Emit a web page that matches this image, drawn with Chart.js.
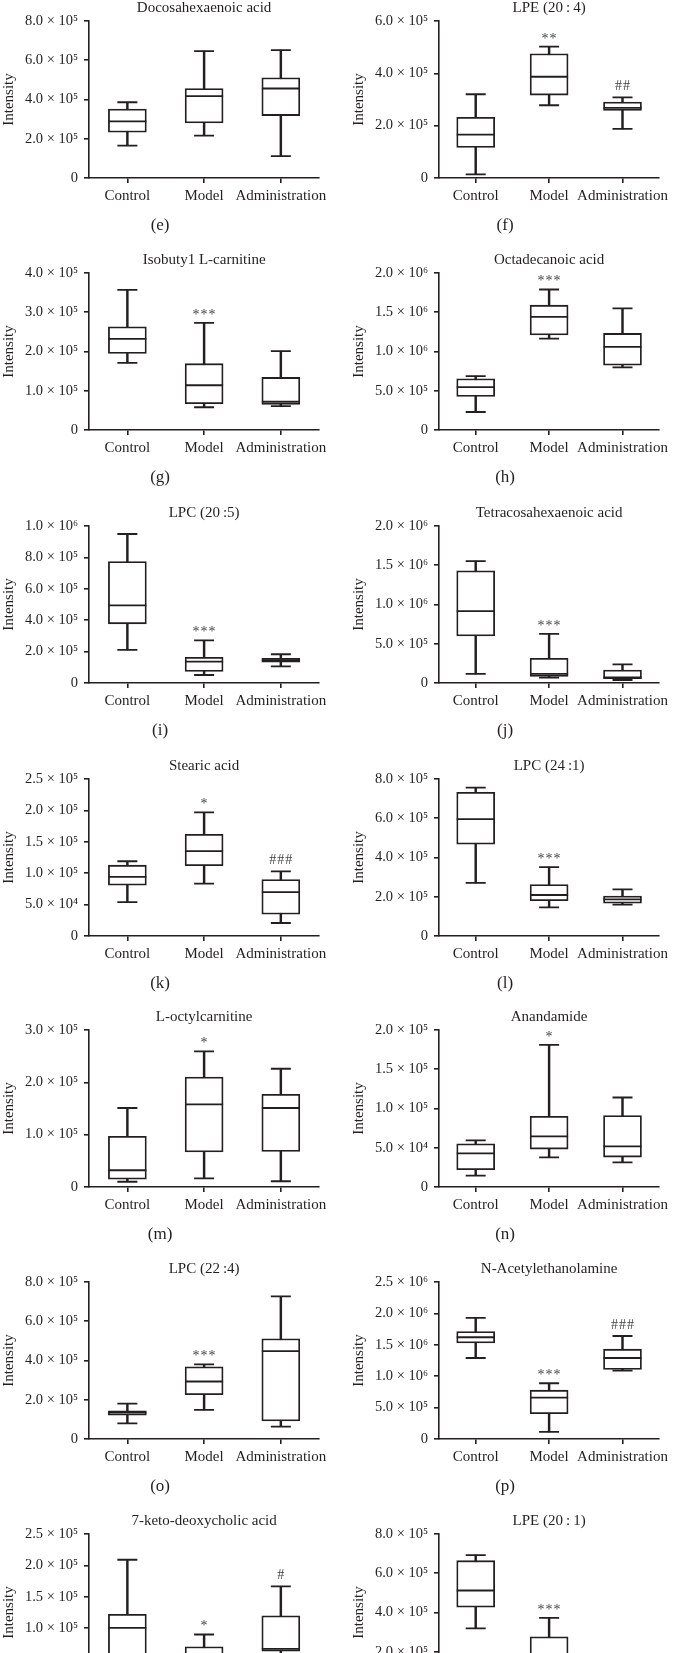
<!DOCTYPE html>
<html>
<head>
<meta charset="utf-8">
<script src="https://cdn.jsdelivr.net/npm/chart.js@4.4.1/dist/chart.umd.min.js"></script>
<style>
  html, body { margin: 0; padding: 0; background: #fff; }
  body { width: 680px; height: 1653px; overflow: hidden; position: relative; }
  .panel { position: absolute; width: 340px; height: 252px; }
</style>
</head>
<body>
<script>
// Box plots e..r: per panel, one triple (Control, Model, Administration) per stat.
const groups = ['Control', 'Model', 'Administration'];
const titles = ['Docosahexaenoic acid', 'LPE (20\u2009:\u20094)', 'Isobuty1 L-carnitine', 'Octadecanoic acid',
  'LPC (20\u2009:5)', 'Tetracosahexaenoic acid', 'Stearic acid', 'LPC (24\u2009:1)',
  'L-octylcarnitine', 'Anandamide', 'LPC (22\u2009:4)', 'N-Acetylethanolamine',
  '7-keto-deoxycholic acid', 'LPE (20\u2009:\u20091)'];
const letters = ['(e)', '(f)', '(g)', '(h)', '(i)', '(j)', '(k)', '(l)', '(m)', '(n)', '(o)', '(p)', '(q)', '(r)'];
const yMax = [8e5, 6e5, 4e5, 2e6, 1e6, 2e6, 2.5e5, 8e5, 3e5, 2e5, 8e5, 2.5e6, 2.5e5, 8e5];
const yStep = [2e5, 2e5, 1e5, 5e5, 2e5, 5e5, 5e4, 2e5, 1e5, 5e4, 2e5, 5e5, 5e4, 2e5];

const whiskerLow = [
  [1.65e5, 2.16e5, 1.11e5], [0.14e5, 2.78e5, 1.88e5], [1.71e5, 0.58e5, 0.61e5], [0.229e6, 1.165e6, 0.797e6],
  [2.11e5, 0.51e5, 1.06e5], [0.115e6, 0.068e6, 0.038e6], [0.54e5, 0.835e5, 0.207e5], [2.71e5, 1.46e5, 1.60e5],
  [0.10e5, 0.165e5, 0.11e5], [0.144e5, 0.377e5, 0.314e5], [0.80e5, 1.48e5, 0.63e5], [1.29e6, 0.112e6, 1.09e6],
  [0.12e5, 0.15e5, 0.40e5], [3.19e5, 0.8e5, 0.6e5]];
const boxLow = [
  [2.33e5, 2.81e5, 3.18e5], [1.17e5, 3.17e5, 2.58e5], [1.95e5, 0.67e5, 0.65e5], [0.428e6, 1.21e6, 0.826e6],
  [3.77e5, 0.74e5, 1.32e5], [0.60e6, 0.085e6, 0.055e6], [0.81e5, 1.12e5, 0.346e5], [4.68e5, 1.80e5, 1.67e5],
  [0.15e5, 0.67e5, 0.68e5], [0.22e5, 0.483e5, 0.381e5], [1.21e5, 2.26e5, 0.92e5], [1.53e6, 0.404e6, 1.106e6],
  [0.42e5, 0.30e5, 0.635e5], [4.27e5, 1.2e5, 0.85e5]];
const medians = [
  [2.89e5, 4.17e5, 4.56e5], [1.66e5, 3.87e5, 2.68e5], [2.32e5, 1.14e5, 0.72e5], [0.547e6, 1.44e6, 1.06e6],
  [4.94e5, 1.36e5, 1.45e5], [0.915e6, 0.115e6, 0.072e6], [0.94e5, 1.35e5, 0.70e5], [5.96e5, 2.09e5, 1.87e5],
  [0.32e5, 1.58e5, 1.51e5], [0.428e5, 0.644e5, 0.517e5], [1.34e5, 2.93e5, 4.48e5], [1.62e6, 0.66e6, 1.29e6],
  [1.006e5, 0.45e5, 0.67e5], [5.12e5, 1.6e5, 1.05e5]];
const boxHigh = [
  [3.51e5, 4.56e5, 5.11e5], [2.32e5, 4.75e5, 2.90e5], [2.63e5, 1.69e5, 1.34e5], [0.653e6, 1.59e6, 1.23e6],
  [7.74e5, 1.64e5, 1.57e5], [1.43e6, 0.315e6, 0.166e6], [1.128e5, 1.62e5, 0.90e5], [7.32e5, 2.62e5, 2.04e5],
  [0.97e5, 2.10e5, 1.77e5], [0.551e5, 0.90e5, 0.91e5], [1.43e5, 3.68e5, 5.11e5], [1.71e6, 0.777e6, 1.43e6],
  [1.22e5, 0.705e5, 1.196e5], [6.64e5, 2.76e5, 1.3e5]];
const whiskerHigh = [
  [3.86e5, 6.47e5, 6.52e5], [3.20e5, 5.02e5, 3.08e5], [3.57e5, 2.73e5, 2.01e5], [0.686e6, 1.79e6, 1.55e6],
  [9.49e5, 2.72e5, 1.83e5], [1.553e6, 0.626e6, 0.238e6], [1.19e5, 1.97e5, 1.03e5], [7.56e5, 3.51e5, 2.38e5],
  [1.51e5, 2.59e5, 2.26e5], [0.593e5, 1.81e5, 1.14e5], [1.80e5, 3.80e5, 7.27e5], [1.93e6, 0.888e6, 1.64e6],
  [2.09e5, 0.90e5, 1.665e5], [6.92e5, 3.73e5, 1.7e5]];
const marks = [
  ['', '', ''], ['', '**', '##'], ['', '***', ''], ['', '***', ''],
  ['', '***', ''], ['', '***', ''], ['', '*', '###'], ['', '***', ''],
  ['', '*', ''], ['', '*', ''], ['', '***', ''], ['', '***', '###'],
  ['', '*', '#'], ['', '***', '']];

const rowTops = [0, 252, 505, 758, 1009, 1261, 1513];
const ink = '#231f20';
const markInk = '#444';
const serif = '"Liberation Serif", "DejaVu Serif", serif';

const SUP = { '4': '\u2074', '5': '\u2075', '6': '\u2076' };
function sci(v) {
  if (Math.abs(v) < 1e-6) return '0';
  const e = Math.floor(Math.log10(v) + 1e-9);
  const m = (v / Math.pow(10, e)).toFixed(1);
  return m + ' \u00d7 10' + String(e).split('').map((c) => SUP[c] || c).join('');
}

// Title above the plot, significance marks above the top whisker, panel letter below.
const panelText = {
  id: 'panelText',
  afterDraw(chart, args, opts) {
    const { ctx, chartArea } = chart;
    const xs = chart.scales.x, ys = chart.scales.y;
    const cx = (chartArea.left + chartArea.right) / 2;
    ctx.save();
    ctx.fillStyle = ink;
    ctx.textAlign = 'center';
    ctx.textBaseline = 'middle';
    ctx.font = `15px ${serif}`;
    ctx.fillText(opts.title, cx, chartArea.top - 13);
    ctx.font = `17px ${serif}`;
    ctx.fillText(opts.letter, cx - 44, chartArea.bottom + 48);
    ctx.fillStyle = markInk;
    ctx.font = `14px ${serif}`;
    ctx.textBaseline = 'alphabetic';
    ctx.letterSpacing = '1px';
    opts.marks.forEach((m, j) => {
      if (!m) return;
      const lift = m.includes('#') ? 7 : 4;
      ctx.fillText(m, xs.getPixelForValue(j) + 0.5, ys.getPixelForValue(opts.tops[j]) - lift);
    });
    ctx.restore();
  },
};

function renderPanel(i) {
  const col = i % 2, row = Math.floor(i / 2);
  const box = document.createElement('div');
  box.className = 'panel';
  box.style.left = (col * 340) + 'px';
  box.style.top = rowTops[row] + 'px';
  const canvas = document.createElement('canvas');
  box.appendChild(canvas);
  document.body.appendChild(box);

  const lineW = 1.8;
  const pointSet = (data, radius) => ({
    type: 'line', data, showLine: false, pointStyle: 'line', pointRadius: radius,
    pointBorderColor: ink, pointBorderWidth: lineW, pointBackgroundColor: ink, order: 1,
  });

  new Chart(canvas, {
    type: 'bar',
    data: {
      labels: groups,
      datasets: [
        { data: groups.map((g, j) => [whiskerLow[i][j], whiskerHigh[i][j]]), barThickness: lineW,
          backgroundColor: ink, grouped: false, order: 3 },
        { data: groups.map((g, j) => [boxLow[i][j], boxHigh[i][j]]), barThickness: 38,
          backgroundColor: '#fff', borderColor: ink, borderWidth: lineW, borderSkipped: false,
          grouped: false, order: 2 },
        pointSet(medians[i], 19),
        pointSet(whiskerLow[i], 10),
        pointSet(whiskerHigh[i], 10),
      ],
    },
    options: {
      responsive: true, maintainAspectRatio: false, animation: false, events: [],
      layout: { padding: { top: 21, bottom: 0, left: col ? 10 : 0, right: col ? 4 : 14 } },
      scales: {
        x: {
          grid: { offset: false, drawOnChartArea: false, tickLength: 5, color: ink, lineWidth: 1.6 },
          border: { color: ink, width: 1.6 },
          ticks: { color: ink, font: { family: serif, size: 15 }, padding: 4, maxRotation: 0, autoSkip: false },
          afterFit(s) { s.height = 74; s.paddingLeft = 0; s.paddingRight = 0; },
        },
        y: {
          min: 0, max: yMax[i],
          grid: { drawOnChartArea: false, tickLength: 5, color: ink, lineWidth: 1.6 },
          border: { color: ink, width: 1.6 },
          ticks: { stepSize: yStep[i], color: ink, font: { family: serif, size: 14.5 }, padding: 6,
                   callback: (v) => sci(v) },
          title: { display: true, text: 'Intensity', color: ink, font: { family: serif, size: 15 }, padding: 0 },
          afterFit(s) { s.width = 89; s.paddingTop = 0; s.paddingBottom = 0; },
        },
      },
      plugins: {
        legend: { display: false }, tooltip: { enabled: false },
        panelText: { title: titles[i], letter: letters[i], marks: marks[i], tops: whiskerHigh[i] },
      },
    },
    plugins: [panelText],
  });
}

for (let i = 0; i < titles.length; i++) renderPanel(i);
</script>
</body>
</html>
